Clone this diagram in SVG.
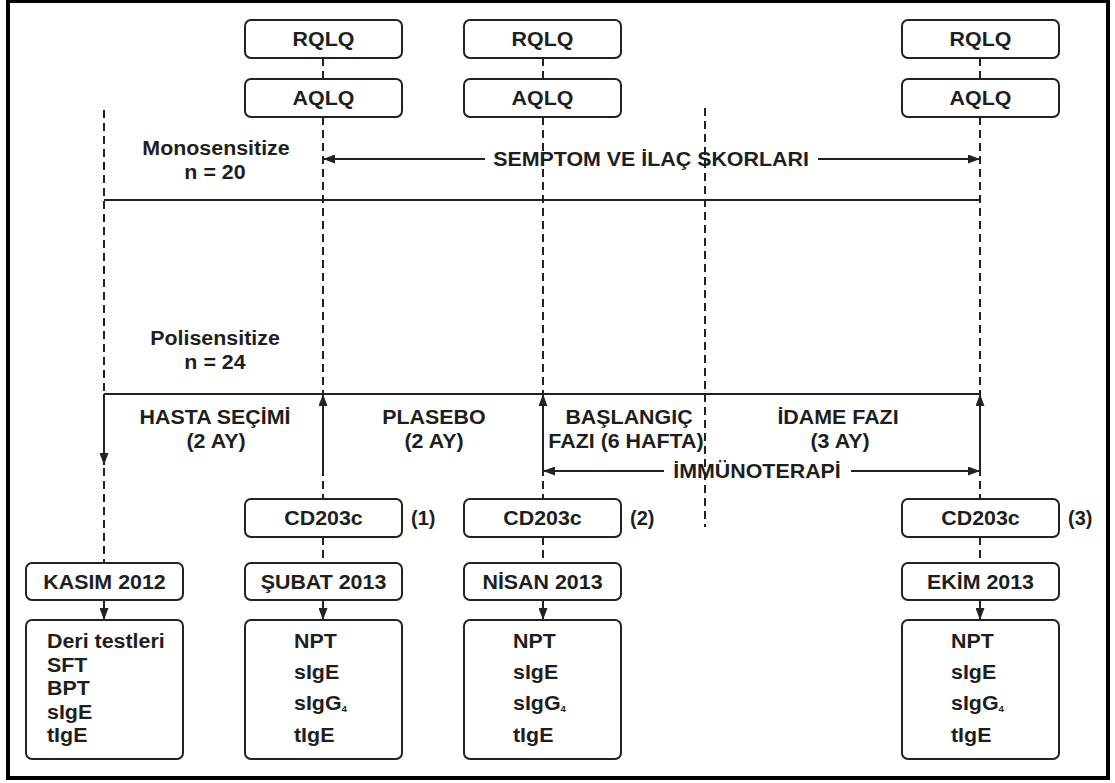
<svg xmlns="http://www.w3.org/2000/svg" width="1115" height="783" viewBox="0 0 1115 783">
<style>
.box{fill:#fff;stroke:#222;stroke-width:2}
.t{font-family:"Liberation Sans",Arial,sans-serif;font-weight:bold;font-size:20px;fill:#1e1e1e}
.m{text-anchor:middle}
.dash{fill:none;stroke:#222;stroke-width:2;stroke-dasharray:8 5}
.sol{fill:none;stroke:#222;stroke-width:2}
.arr{marker-end:url(#ah)}
</style>
<defs>
<marker id="ah" viewBox="0 0 12 9" refX="12" refY="4.5" markerWidth="12" markerHeight="9" markerUnits="userSpaceOnUse" orient="auto">
<path d="M0,0 L12,4.5 L0,9 z" fill="#222"/>
</marker>
</defs>
<rect x="8" y="1" width="1100" height="777" fill="#fff" stroke="#000" stroke-width="4"/>

<g id="connectors">
<path class="dash" d="M104 110 V394"/>
<path class="sol arr" d="M104 394 V465"/>
<path class="dash" d="M104 468 V563"/>
<path class="dash arr" d="M104 600 V620"/>

<path class="dash" d="M323 58 V79 M323 117 V499 M323 537 V563"/>
<path class="sol arr" d="M323 472 V394"/>
<path class="sol arr" d="M323 600 V620"/>

<path class="dash" d="M543 58 V79 M543 117 V499 M543 537 V563"/>
<path class="sol arr" d="M543 472 V394"/>
<path class="sol arr" d="M543 600 V620"/>

<path class="dash" d="M980 58 V79 M980 117 V499 M980 537 V563"/>
<path class="sol arr" d="M980 472 V394"/>
<path class="sol arr" d="M980 600 V620"/>

<path class="dash" d="M705 108 V527"/>

<path class="sol" d="M104 200 H980"/>
<path class="sol" d="M104 394 H980"/>

<path class="sol arr" d="M485 159 H323"/>
<path class="sol arr" d="M818 159 H980"/>
<path class="sol arr" d="M664 471 H543"/>
<path class="sol arr" d="M851 471 H980"/>
</g>

<g id="labels">
<text class="t m" transform="translate(216 155) scale(1.07 1)">Monosensitize</text>
<text class="t m" transform="translate(215 179) scale(1.07 1)">n = 20</text>
<text class="t m" transform="translate(651 166) scale(1.07 1)">SEMPTOM VE İLAÇ SKORLARI</text>
<text class="t m" transform="translate(215 345) scale(1.07 1)">Polisensitize</text>
<text class="t m" transform="translate(215 369) scale(1.07 1)">n = 24</text>
<text class="t m" transform="translate(215 424) scale(1.07 1)">HASTA SEÇİMİ</text>
<text class="t m" transform="translate(216 448) scale(1.07 1)">(2 AY)</text>
<text class="t m" transform="translate(434 424) scale(1.07 1)">PLASEBO</text>
<text class="t m" transform="translate(434 448) scale(1.07 1)">(2 AY)</text>
<text class="t m" transform="translate(629 424) scale(1.07 1)">BAŞLANGIÇ</text>
<text class="t m" transform="translate(626 448) scale(1.07 1)">FAZI (6 HAFTA)</text>
<text class="t m" transform="translate(838 424) scale(1.07 1)">İDAME FAZI</text>
<text class="t m" transform="translate(840 448) scale(1.07 1)">(3 AY)</text>
<text class="t m" transform="translate(757 478) scale(1.07 1)">İMMÜNOTERAPİ</text>
<text class="t" transform="translate(411 525)">(1)</text>
<text class="t" transform="translate(630 525)">(2)</text>
<text class="t" transform="translate(1068 525)">(3)</text>
</g>

<g id="rqlq1"><rect class="box" x="245" y="20" width="157" height="38" rx="6"/><text class="t m" transform="translate(323.5 46) scale(1.07 1)">RQLQ</text></g>
<g id="rqlq2"><rect class="box" x="464" y="20" width="157" height="38" rx="6"/><text class="t m" transform="translate(542.5 46) scale(1.07 1)">RQLQ</text></g>
<g id="rqlq3"><rect class="box" x="902" y="20" width="157" height="38" rx="6"/><text class="t m" transform="translate(980.5 46) scale(1.07 1)">RQLQ</text></g>
<g id="aqlq1"><rect class="box" x="245" y="79" width="157" height="38" rx="6"/><text class="t m" transform="translate(323.5 105) scale(1.07 1)">AQLQ</text></g>
<g id="aqlq2"><rect class="box" x="464" y="79" width="157" height="38" rx="6"/><text class="t m" transform="translate(542.5 105) scale(1.07 1)">AQLQ</text></g>
<g id="aqlq3"><rect class="box" x="902" y="79" width="157" height="38" rx="6"/><text class="t m" transform="translate(980.5 105) scale(1.07 1)">AQLQ</text></g>

<g id="cd1"><rect class="box" x="245" y="499" width="157" height="38" rx="6"/><text class="t m" transform="translate(323.5 525) scale(1.07 1)">CD203c</text></g>
<g id="cd2"><rect class="box" x="464" y="499" width="157" height="38" rx="6"/><text class="t m" transform="translate(542.5 525) scale(1.07 1)">CD203c</text></g>
<g id="cd3"><rect class="box" x="902" y="499" width="157" height="38" rx="6"/><text class="t m" transform="translate(980.5 525) scale(1.07 1)">CD203c</text></g>

<g id="kasim"><rect class="box" x="26" y="563" width="157" height="37" rx="6"/><text class="t m" transform="translate(104.5 589) scale(1.07 1)">KASIM 2012</text></g>
<g id="subat"><rect class="box" x="245" y="563" width="157" height="37" rx="6"/><text class="t m" transform="translate(323.5 589) scale(1.07 1)">ŞUBAT 2013</text></g>
<g id="nisan"><rect class="box" x="464" y="563" width="157" height="37" rx="6"/><text class="t m" transform="translate(542.5 589) scale(1.07 1)">NİSAN 2013</text></g>
<g id="ekim"><rect class="box" x="902" y="563" width="157" height="37" rx="6"/><text class="t m" transform="translate(980.5 589) scale(1.07 1)">EKİM 2013</text></g>

<g id="res1"><rect class="box" x="26" y="620" width="157" height="139" rx="6"/>
<text class="t" transform="translate(47 648) scale(1.07 1)">Deri testleri</text>
<text class="t" transform="translate(47 671.5) scale(1.07 1)">SFT</text>
<text class="t" transform="translate(47 695) scale(1.07 1)">BPT</text>
<text class="t" transform="translate(47 718.5) scale(1.07 1)">sIgE</text>
<text class="t" transform="translate(47 742) scale(1.07 1)">tIgE</text></g>

<g id="res2"><rect class="box" x="245" y="620" width="157" height="139" rx="6"/>
<text class="t" transform="translate(294 648) scale(1.07 1)">NPT</text>
<text class="t" transform="translate(294 679) scale(1.07 1)">sIgE</text>
<text class="t" transform="translate(294 710) scale(1.07 1)">sIgG<tspan font-size="9" dy="2">4</tspan></text>
<text class="t" transform="translate(294 742) scale(1.07 1)">tIgE</text></g>

<g id="res3"><rect class="box" x="464" y="620" width="157" height="139" rx="6"/>
<text class="t" transform="translate(513 648) scale(1.07 1)">NPT</text>
<text class="t" transform="translate(513 679) scale(1.07 1)">sIgE</text>
<text class="t" transform="translate(513 710) scale(1.07 1)">sIgG<tspan font-size="9" dy="2">4</tspan></text>
<text class="t" transform="translate(513 742) scale(1.07 1)">tIgE</text></g>

<g id="res4"><rect class="box" x="902" y="620" width="157" height="139" rx="6"/>
<text class="t" transform="translate(951 648) scale(1.07 1)">NPT</text>
<text class="t" transform="translate(951 679) scale(1.07 1)">sIgE</text>
<text class="t" transform="translate(951 710) scale(1.07 1)">sIgG<tspan font-size="9" dy="2">4</tspan></text>
<text class="t" transform="translate(951 742) scale(1.07 1)">tIgE</text></g>
</svg>
